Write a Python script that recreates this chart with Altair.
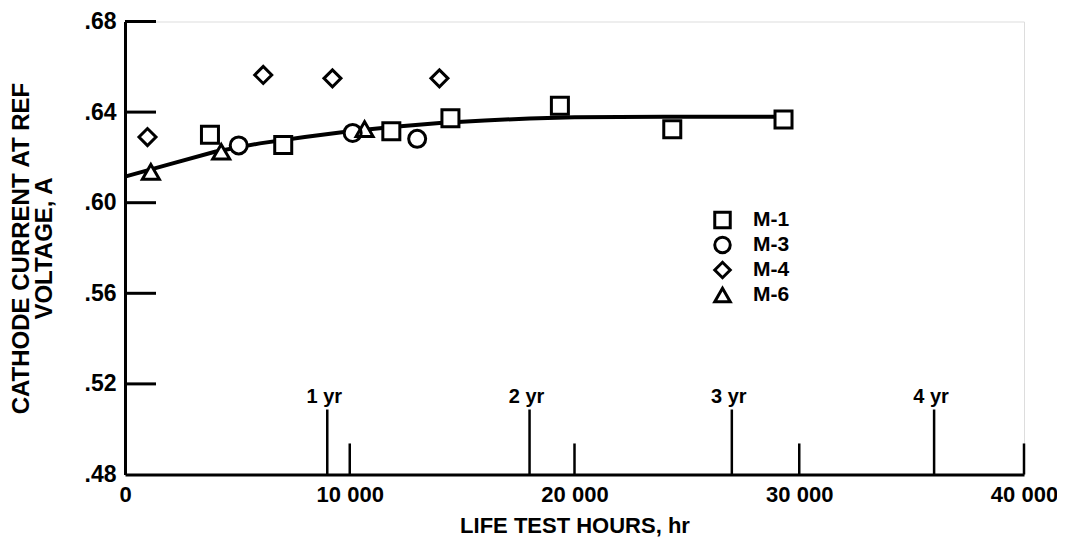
import altair as alt
import pandas as pd

# ---- data ----
series_names = ["M-1", "M-3", "M-4", "M-6"]
series_shapes = ["square", "circle", "diamond", "triangle-up"]

m1_hours = [3780, 7040, 11850, 14480, 19350, 24350, 29300]
m1_current = [0.6300, 0.6255, 0.6315, 0.6373, 0.6428, 0.6324, 0.6367]
m3_hours = [5060, 10130, 13000]
m3_current = [0.6253, 0.6308, 0.6282]
m4_hours = [1000, 6150, 9230, 13990]
m4_current = [0.6290, 0.6564, 0.6549, 0.6549]
m6_hours = [1150, 4280, 10660]
m6_current = [0.6136, 0.6225, 0.6325]

curve_hours = [0, 2000, 4000, 6000, 8000, 10000, 12000, 14000, 16000, 18000, 20000, 24000, 29300]
curve_current = [0.6115, 0.6170, 0.6225, 0.6262, 0.6290, 0.6315, 0.6335, 0.6352, 0.6363, 0.6372, 0.6377, 0.6380, 0.6380]

x_tick_values = [0, 10000, 20000, 30000, 40000]
y_tick_values = [0.48, 0.52, 0.56, 0.60, 0.64, 0.68]
inner_y_ticks = [0.52, 0.56, 0.60, 0.64, 0.68]
x_marker_hours = [10000, 20000, 30000, 40000]
year_hours = [9000, 18000, 27000, 36000]
year_labels = ["1 yr", "2 yr", "3 yr", "4 yr"]

FONT = "Liberation Sans"
Y_BASE = 0.48
X_MARK_TOP = 0.4937
YEAR_TOP = 0.5087
YEAR_TEXT = 0.5116

# ---- tables ----
rows = []
for name, hs, cs in zip(series_names,
                        [m1_hours, m3_hours, m4_hours, m6_hours],
                        [m1_current, m3_current, m4_current, m6_current]):
    for h, c in zip(hs, cs):
        rows.append({"hours": h, "current": c, "series": name, "series_bg": name})
points_df = pd.DataFrame(rows)
curve_df = pd.DataFrame({"hours": curve_hours, "current": curve_current})
xmark_df = pd.DataFrame({"hours": x_marker_hours, "current": [Y_BASE] * len(x_marker_hours),
                         "top": [X_MARK_TOP] * len(x_marker_hours)})
year_df = pd.DataFrame({"hours": year_hours, "current": [Y_BASE] * len(year_hours),
                        "top": [YEAR_TOP] * len(year_hours), "label": year_labels,
                        "texty": [YEAR_TEXT] * len(year_hours)})
ytick_df = pd.DataFrame({"current": inner_y_ticks})

x_scale = alt.Scale(domain=[0, 40000], nice=False, zero=False)
y_scale = alt.Scale(domain=[0.48, 0.68], nice=False, zero=False)

x_axis = alt.Axis(
    values=x_tick_values,
    labelExpr="replace(format(datum.value, ','), ',', ' ')",
    ticks=False, grid=False, domainWidth=3, domainColor="black",
    labelFont=FONT, labelFontSize=22, labelFontWeight="bold", labelColor="black",
    labelPadding=10, labelFlush=False, labelOverlap=False,
    title="LIFE TEST HOURS, hr", titleFont=FONT, titleFontSize=22,
    titleFontWeight="bold", titleColor="black", titlePadding=10,
)
y_axis = alt.Axis(
    values=y_tick_values,
    labelExpr="replace(format(datum.value, '.2f'), '0.', '.')",
    ticks=False, grid=False, domainWidth=3, domainColor="black",
    labelFont=FONT, labelFontSize=23, labelFontWeight="bold", labelColor="black",
    labelPadding=9, labelFlush=False, labelOverlap=False,
    title=["CATHODE CURRENT AT REF", "VOLTAGE, A"], titleFont=FONT,
    titleFontSize=24, titleFontWeight="bold", titleColor="black",
    titlePadding=28, titleLineHeight=23,
)

X = alt.X("hours:Q", scale=x_scale, axis=x_axis)
Y = alt.Y("current:Q", scale=y_scale, axis=y_axis)

curve = alt.Chart(curve_df).mark_line(color="black", strokeWidth=4).encode(x=X, y=Y)

xmarks = alt.Chart(xmark_df).mark_rule(color="black", strokeWidth=2.5).encode(
    x=X, y=Y, y2="top:Q")
years = alt.Chart(year_df).mark_rule(color="black", strokeWidth=2.5).encode(
    x=X, y=Y, y2="top:Q")
year_text = alt.Chart(year_df).mark_text(
    font=FONT, fontSize=20, fontWeight="bold", color="black",
    align="center", baseline="alphabetic", dx=-3
).encode(x=X, y=alt.Y("texty:Q", scale=y_scale, axis=y_axis), text="label:N")

yticks = alt.Chart(ytick_df).mark_rule(color="black", strokeWidth=3).encode(
    x=alt.value(0), x2=alt.value(31), y=Y)

# white backing so the curve is hidden inside the open symbols
pts_bg = alt.Chart(points_df).mark_point(
    filled=True, color="white", size=289, opacity=1
).encode(x=X, y=Y, shape=alt.Shape("series_bg:N",
                                   scale=alt.Scale(domain=series_names, range=series_shapes),
                                   legend=None))

pts = alt.Chart(points_df).mark_point(
    filled=False, color="black", strokeWidth=3, size=289, opacity=1
).encode(
    x=X, y=Y,
    shape=alt.Shape("series:N", scale=alt.Scale(domain=series_names, range=series_shapes),
                    legend=alt.Legend(
                        title=None, orient="none", legendX=587, legendY=188,
                        padding=0, symbolSize=240, symbolStrokeWidth=3,
                        symbolStrokeColor="black", symbolFillColor="white",
                        labelFont=FONT, labelFontSize=21, labelFontWeight="bold",
                        labelColor="black", labelOffset=20, rowPadding=-8)),
)

chart = alt.layer(curve, xmarks, years, year_text, yticks, pts_bg, pts).resolve_scale(
    shape="independent"
).properties(
    width=899, height=453,
    autosize=alt.AutoSizeParams(type="none"),
    padding={"left": 117, "top": 13.5, "right": 33, "bottom": 62.5},
).configure_view(stroke=None).configure(background="white")

chart.save("out.html", embed_options={"renderer": "svg", "actions": False})
